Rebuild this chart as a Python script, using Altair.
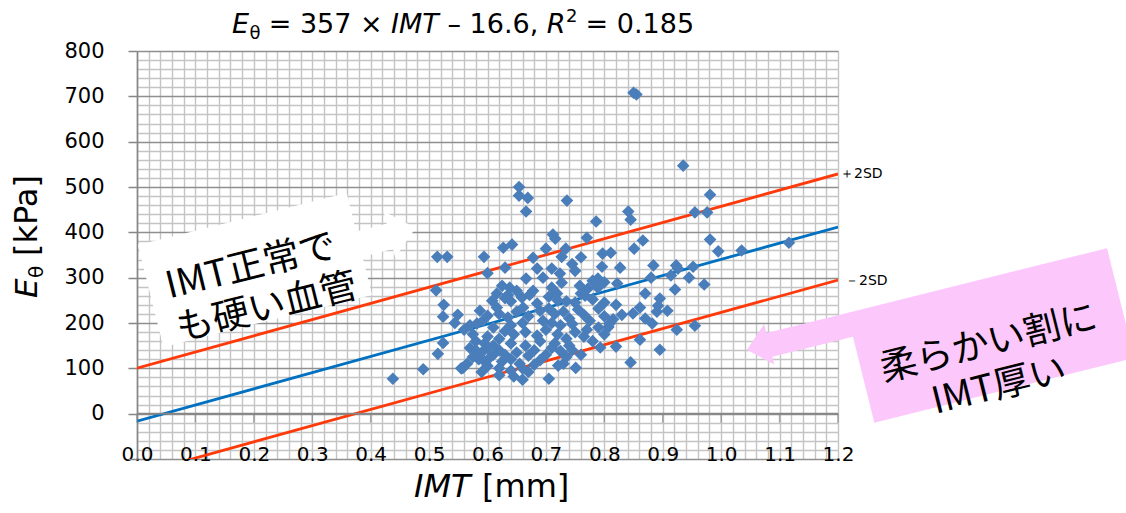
import altair as alt
import pandas as pd

# ---------------- data ----------------
imt = [
    0.438, 0.490, 0.514, 0.531, 0.512, 0.525, 0.524, 0.549, 0.544, 0.524, 0.515, 0.558, 0.594,
    0.627, 0.642, 0.654, 0.654, 0.669, 0.666, 0.736, 0.712, 0.716, 0.700, 0.734, 0.727, 0.770,
    0.786, 0.841, 0.845, 0.850, 0.855,
    0.935, 0.981, 0.955, 0.976, 0.866, 0.851, 0.981, 0.995, 1.035, 1.116, 0.811, 0.797, 0.827,
    0.884, 0.923, 0.926, 0.952, 0.796, 0.880, 0.945, 0.914, 0.971, 0.921, 0.870, 0.822, 0.800,
    0.895, 0.892, 0.908, 0.890, 0.861, 0.849, 0.830, 0.870, 0.882, 0.809, 0.807, 0.955, 0.924,
    0.861, 0.820, 0.895, 0.845, 0.793, 0.751, 0.721, 0.705, 0.780, 0.789,
    0.630, 0.685, 0.666, 0.724, 0.727, 0.678, 0.600, 0.745, 0.750, 0.710, 0.760, 0.695,
    0.625, 0.638, 0.650, 0.678, 0.710, 0.758, 0.772, 0.789,
    0.616, 0.659, 0.719, 0.760, 0.767, 0.608, 0.630, 0.640, 0.685, 0.720, 0.735, 0.750, 0.780,
    0.800, 0.820, 0.635, 0.672, 0.705,
    0.616, 0.661, 0.690, 0.587, 0.600, 0.582, 0.592, 0.620, 0.635, 0.650, 0.670, 0.705, 0.715,
    0.730, 0.740, 0.755, 0.765, 0.775, 0.790, 0.800, 0.815, 0.695, 0.710, 0.725, 0.745, 0.660,
    0.640, 0.610, 0.630, 0.570, 0.560,
    0.575, 0.600, 0.620, 0.645, 0.665, 0.685, 0.700, 0.720, 0.735, 0.750, 0.765, 0.780, 0.790,
    0.740, 0.715, 0.690, 0.665, 0.640, 0.580, 0.595, 0.610, 0.770, 0.800,
    0.570, 0.580, 0.590, 0.600, 0.610, 0.575, 0.585, 0.595, 0.605, 0.620, 0.630, 0.625, 0.640,
    0.650, 0.655, 0.670, 0.680, 0.690, 0.700, 0.710, 0.725, 0.735, 0.745, 0.760, 0.565, 0.600,
    0.620, 0.640, 0.660, 0.670, 0.680, 0.730, 0.620, 0.645, 0.660, 0.555, 0.590,
]
e_theta = [
    77, 98, 346, 346, 272, 240, 214, 218, 200, 156, 132, 101, 346,
    366, 373, 500, 481, 476, 446, 470, 395, 386, 364, 364, 346, 388,
    424, 446, 428, 708, 704,
    547, 483, 444, 444, 382, 364, 384, 358, 360, 377, 355, 353, 322,
    327, 327, 320, 324, 324, 300, 300, 305, 285, 274, 265, 287, 290,
    254, 238, 227, 225, 234, 221, 218, 210, 199, 199, 191, 194, 185,
    163, 148, 141, 113, 146, 101, 106, 77, 293, 298,
    322, 320, 298, 309, 289, 344, 310, 330, 315, 320, 345, 300,
    282, 278, 271, 271, 278, 282, 276, 278,
    265, 256, 265, 265, 260, 249, 255, 248, 243, 250, 248, 245, 252,
    245, 240, 262, 262, 258,
    234, 234, 227, 227, 216, 199, 205, 220, 212, 225, 215, 232, 220,
    225, 210, 230, 218, 205, 232, 215, 208, 205, 200, 195, 198, 200,
    195, 190, 182, 195, 185,
    175, 170, 165, 175, 180, 172, 185, 175, 165, 180, 170, 160, 190,
    150, 155, 160, 150, 155, 160, 155, 150, 185, 175,
    145, 140, 135, 145, 130, 125, 120, 115, 125, 140, 130, 115, 120,
    135, 110, 128, 140, 118, 130, 145, 138, 125, 140, 130, 110, 105,
    100, 95, 100, 92, 108, 110, 85, 82, 75, 100, 92,
]

slope = 357
intercept = -16.6
two_sd = 117
line_x = [0.0, 1.2]
x_major = [0.0, 0.1, 0.2, 0.3, 0.4, 0.5, 0.6, 0.7, 0.8, 0.9, 1.0, 1.1, 1.2]

# ---------------- tables ----------------
pts = pd.DataFrame({"imt": imt, "e": e_theta})
lines = pd.DataFrame({
    "x": line_x,
    "fit": [slope * v + intercept for v in line_x],
    "upper": [slope * v + intercept + two_sd for v in line_x],
    "lower": [slope * v + intercept - two_sd for v in line_x],
})
ticks = pd.DataFrame({"t": x_major})
ends = lines.iloc[[-1]]
one = pd.DataFrame({"k": [0]})

# ---------------- scales & axes ----------------
xscale = alt.Scale(domain=[0, 1.2], nice=False, zero=False)
yscale = alt.Scale(domain=[-100, 800], nice=False, zero=False)
x_grid_values = [round(i * 0.02, 2) for i in range(61)]
y_grid_values = list(range(-100, 801, 20))

xaxis = alt.Axis(
    values=x_grid_values, grid=True, gridColor="#c4c4c4", gridWidth=1.4,
    ticks=False, domain=False, format=".1f",
    labelExpr="abs(datum.value*10 - round(datum.value*10)) < 0.001 ? format(datum.value, '.1f') : ''",
    labelFont="DejaVu Sans", labelFontSize=20, labelColor="#000000",
    labelBaseline="middle", labelPadding=-5,
    labelOverlap=False, labelFlush=False, labelBound=False, title=None,
)
yaxis = alt.Axis(
    values=y_grid_values, grid=True,
    gridColor=alt.condition("datum.value % 100 === 0", alt.value("#8f8f8f"), alt.value("#c4c4c4")),
    gridWidth=1.4,
    tickColor=alt.condition("datum.value % 100 === 0", alt.value("#868686"), alt.value("transparent")),
    tickSize=9, tickWidth=1.5, domainColor="#868686", domainWidth=1.6, format="d",
    labelExpr="datum.value % 100 === 0 && datum.value >= 0 ? datum.label : ''",
    labelFont="DejaVu Sans", labelFontSize=21, labelColor="#000000", labelPadding=24,
    labelOverlap=False, labelFlush=False, labelBound=False, title=None,
)

def X(f):
    return alt.X(f, type="quantitative", scale=xscale, axis=xaxis)

def Y(f):
    return alt.Y(f, type="quantitative", scale=yscale, axis=yaxis)

# ---------------- marks ----------------
fit_line = alt.Chart(lines).mark_line(color="#0070c0", strokeWidth=2.8, clip=True).encode(x=X("x"), y=Y("fit"))
up_line = alt.Chart(lines).mark_line(color="#ff3a0a", strokeWidth=2.8, clip=True).encode(x=X("x"), y=Y("upper"))
low_line = alt.Chart(lines).mark_line(color="#ff3a0a", strokeWidth=2.8, clip=True).encode(x=X("x"), y=Y("lower"))

points = alt.Chart(pts).mark_point(
    shape="diamond", filled=True, size=160, color="#4a7ebb", opacity=1
).encode(x=X("imt"), y=Y("e"))

zero_axis = alt.Chart(ticks).mark_rule(color="#868686", strokeWidth=1.6).encode(
    x=alt.X("min(t):Q", scale=xscale, axis=xaxis),
    x2=alt.X2("max(t):Q"),
    y=alt.Y(datum=0, scale=yscale, axis=yaxis),
)
zero_ticks = alt.Chart(ticks).mark_tick(
    orient="vertical", size=9, thickness=1.5, color="#868686", yOffset=4.5
).encode(x=X("t"), y=alt.Y(datum=0, scale=yscale, axis=yaxis))

up_lbl = alt.Chart(ends).mark_text(
    text="＋2SD", align="left", baseline="middle", dx=2, fontSize=14, font="DejaVu Sans", color="black"
).encode(x=X("x"), y=Y("upper"))
low_lbl = alt.Chart(ends).mark_text(
    text="－2SD", align="left", baseline="middle", dx=7, dy=1, fontSize=14, font="DejaVu Sans", color="black"
).encode(x=X("x"), y=Y("lower"))


def txt(s, x, y, size, italic=False, angle=0, align="left", baseline="alphabetic",
        font="DejaVu Sans", **kw):
    return alt.Chart(one).mark_text(
        text=s, fontSize=size, font=font, fontStyle="italic" if italic else "normal",
        angle=angle, align=align, baseline=baseline, color="black", **kw
    ).encode(x=alt.value(x), y=alt.value(y))

# title  E_θ = 357 × IMT – 16.6, R² = 0.185
title_parts = [
    txt("E", 95, -18, 27, italic=True),
    txt("θ", 112.5, -12, 18),
    txt("= 357 ×", 131.7, -18, 27),
    txt("IMT", 254.1, -18, 27, italic=True),
    txt("– 16.6,", 310.5, -18, 27),
    txt("R", 409.8, -18, 27, italic=True),
    txt("2", 429, -29, 18),
    txt("= 0.185", 448.6, -18, 27),
]

# y title  E_θ [kPa]
ytitle_parts = [
    txt("E", -100, 247, 31, italic=True, angle=270),
    txt("θ", -94, 227, 20, angle=270),
    txt("[kPa]", -100, 205, 32, angle=270),
]

# x title  IMT [mm]
xtitle_parts = [
    txt("IMT", 277, 446, 32, italic=True),
    txt("[mm]", 345, 446, 32),
]

# callouts
white_path = ("M-107.5,-52.5L107.5,-52.5L107.5,-13L139,-13L139,-26L166,-2L139,22L139,13"
              "L107.5,13L107.5,52.5L-107.5,52.5Z")
pink_path = ("M-134,-56.5L134,-56.5L134,56.5L-134,56.5L-134,-32L-217,-32L-217,-24L-240,-45"
             "L-217,-66L-217,-56.5Z")

white_box = alt.Chart(one).mark_point(
    shape=white_path, size=4, filled=True, fill="white", color="white", opacity=1,
    strokeWidth=0, angle=346
).encode(x=alt.value(118), y=alt.value(219))
pink_box = alt.Chart(one).mark_point(
    shape=pink_path, size=4, filled=True, fill="#fcc8fc", color="#fcc8fc", opacity=1,
    strokeWidth=0, angle=346
).encode(x=alt.value(853.7), y=alt.value(284.4))

white_text = txt(["IMT正常で", "も硬い血管"], 29.7, 236.9, 37, angle=346, align="left",
                 baseline="middle", font="Noto Sans CJK JP", lineHeight=44)
pink_text = txt(["柔らかい割に", "IMT厚い"], 851.7, 293, 37, angle=346, align="center",
                baseline="middle", font="Noto Sans CJK JP", lineHeight=44)

chart = alt.layer(
    fit_line, up_line, low_line, zero_axis, zero_ticks, points, up_lbl, low_lbl,
    *title_parts, *ytitle_parts, *xtitle_parts,
    white_box, pink_box, white_text, pink_text,
).properties(
    width=701, height=408,
    padding={"left": 137, "top": 51, "right": 288, "bottom": 54},
    autosize=alt.AutoSizeParams(type="none"),
    background="white",
).configure_view(strokeWidth=0)

chart.save("out.html", embed_options={"renderer": "svg", "actions": False})
